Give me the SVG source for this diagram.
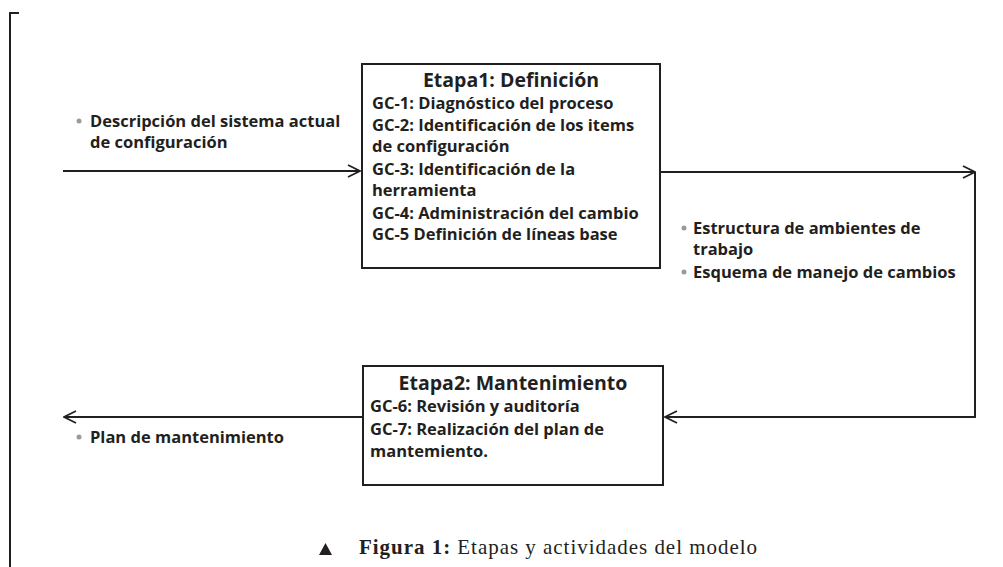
<svg xmlns="http://www.w3.org/2000/svg" width="1003" height="567" viewBox="0 0 1003 567">
<defs>
<style>
.ln{fill:none;stroke:#231f20;stroke-width:2}
.box{fill:#fff;stroke:#231f20;stroke-width:2}
.t{font-family:"Open Sans",Lato,sans-serif;font-weight:bold;font-size:16.5px;fill:#231f20}
.ti{font-family:"Open Sans",Lato,sans-serif;font-weight:bold;font-size:19.5px;fill:#231f20}
.b{fill:#9a9a9a}
.cap{font-family:"Liberation Serif",serif;font-size:21px;fill:#231f20}
</style>
<marker id="ah" viewBox="0 0 14 14" refX="13" refY="7" markerWidth="14" markerHeight="14" markerUnits="userSpaceOnUse" orient="auto">
<path d="M1,1 L13,7 L1,13" fill="none" stroke="#231f20" stroke-width="1.8"/>
</marker>
</defs>
<rect width="1003" height="567" fill="#fff"/>
<path class="ln" d="M19,13 H10 V567" stroke="#444"/>
<g id="connectors">
<line class="ln" x1="63" y1="171" x2="360" y2="171" marker-end="url(#ah)"/>
<polyline class="ln" points="660,172 975,172" marker-end="url(#ah)"/>
<polyline class="ln" points="975,172 975,417 665,417" marker-end="url(#ah)"/>
<line class="ln" x1="363" y1="417" x2="64" y2="417" marker-end="url(#ah)"/>
</g>
<g id="label-in">
<circle class="b" cx="79" cy="121" r="2.5"/>
<text class="t" x="90" y="127">Descripción del sistema actual</text>
<text class="t" x="90" y="148">de configuración</text>
</g>
<g id="etapa1">
<rect class="box" x="362" y="64" width="298" height="204"/>
<text class="ti" x="511" y="87" text-anchor="middle">Etapa1: Definición</text>
<text class="t" x="372" y="109">GC-1: Diagnóstico del proceso</text>
<text class="t" x="372" y="131">GC-2: Identificación de los items</text>
<text class="t" x="372" y="152">de configuración</text>
<text class="t" x="372" y="175">GC-3: Identificación de la</text>
<text class="t" x="372" y="196">herramienta</text>
<text class="t" x="372" y="219">GC-4: Administración del cambio</text>
<text class="t" x="372" y="240">GC-5 Definición de líneas base</text>
</g>
<g id="label-out1">
<circle class="b" cx="684" cy="228" r="2.5"/>
<text class="t" x="693" y="234">Estructura de ambientes de</text>
<text class="t" x="693" y="255">trabajo</text>
<circle class="b" cx="684" cy="272" r="2.5"/>
<text class="t" x="693" y="278">Esquema de manejo de cambios</text>
</g>
<g id="etapa2">
<rect class="box" x="363" y="366" width="300" height="119"/>
<text class="ti" x="513" y="390" text-anchor="middle">Etapa2: Mantenimiento</text>
<text class="t" x="370" y="412">GC-6: Revisión y auditoría</text>
<text class="t" x="370" y="435">GC-7: Realización del plan de</text>
<text class="t" x="370" y="457">mantemiento.</text>
</g>
<g id="label-out2">
<circle class="b" cx="79" cy="437" r="2.5"/>
<text class="t" x="90" y="443">Plan de mantenimiento</text>
</g>
<g id="caption">
<path d="M319,555 L325.5,543 L332,555 Z" fill="#231f20"/>
<text class="cap" x="359" y="554" textLength="398" lengthAdjust="spacing"><tspan font-weight="bold">Figura 1:</tspan> Etapas y actividades del modelo</text>
</g>
</svg>
